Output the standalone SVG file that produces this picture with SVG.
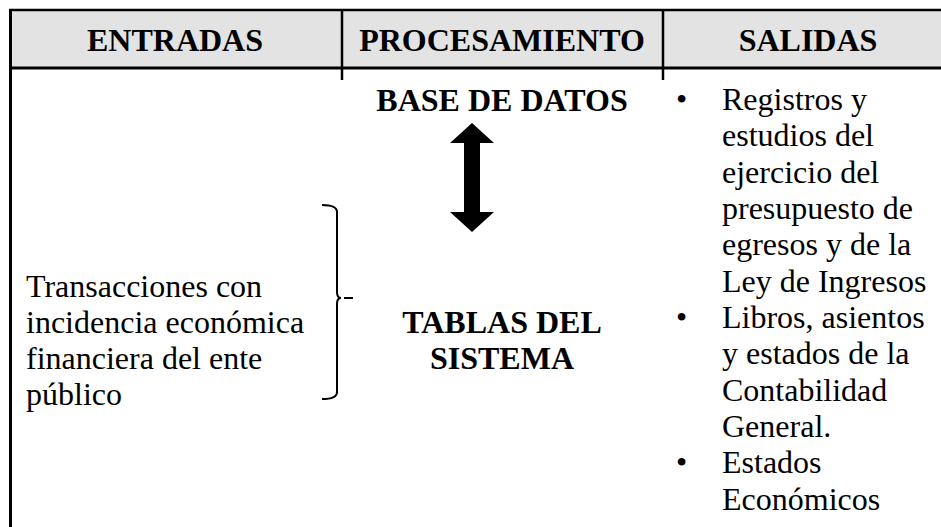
<svg xmlns="http://www.w3.org/2000/svg" width="941" height="527" viewBox="0 0 941 527">
<style>
.hd{font-family:'Liberation Serif',Tinos,'Times New Roman',Times,serif;font-weight:700;font-size:32px;fill:#000;text-anchor:middle}
.tx{font-family:'Liberation Serif',Tinos,'Times New Roman',Times,serif;font-size:32px;fill:#000}
.ln{stroke:#000;fill:none}
</style>
<rect width="941" height="527" fill="#fff"/>
<g id="table">
<rect x="10" y="10" width="931" height="58" fill="#e3e3e3"/>
<line class="ln" x1="9" y1="10" x2="941" y2="10" stroke-width="2.5"/>
<line class="ln" x1="9" y1="68" x2="941" y2="68" stroke-width="3"/>
<line class="ln" x1="10.5" y1="9" x2="10.5" y2="527" stroke-width="3"/>
<line class="ln" x1="342" y1="10" x2="342" y2="80" stroke-width="2.5"/>
<line class="ln" x1="663" y1="10" x2="663" y2="80" stroke-width="2.5"/>
</g>
<g id="header-entradas"><text class="hd" x="175" y="51">ENTRADAS</text></g>
<g id="header-procesamiento"><text class="hd" x="502" y="51">PROCESAMIENTO</text></g>
<g id="header-salidas"><text class="hd" x="808" y="51">SALIDAS</text></g>
<g id="entradas">
<text class="tx" x="26" y="297">Transacciones con</text>
<text class="tx" x="26" y="333">incidencia económica</text>
<text class="tx" x="26" y="369">financiera del ente</text>
<text class="tx" x="26" y="405">público</text>
</g>
<g id="base-datos"><text class="hd" x="502" y="111">BASE DE DATOS</text></g>
<g id="tablas-sistema">
<text class="hd" x="502" y="333">TABLAS DEL</text>
<text class="hd" x="502" y="369">SISTEMA</text>
</g>
<g id="salidas">
<text class="tx" x="676" y="110">•</text>
<text class="tx" x="722" y="110">Registros y</text>
<text class="tx" x="722" y="146">estudios del</text>
<text class="tx" x="722" y="183">ejercicio del</text>
<text class="tx" x="722" y="219">presupuesto de</text>
<text class="tx" x="722" y="255">egresos y de la</text>
<text class="tx" x="722" y="292">Ley de Ingresos</text>
<text class="tx" x="676" y="328">•</text>
<text class="tx" x="722" y="328">Libros, asientos</text>
<text class="tx" x="722" y="364">y estados de la</text>
<text class="tx" x="722" y="401">Contabilidad</text>
<text class="tx" x="722" y="437">General.</text>
<text class="tx" x="676" y="473">•</text>
<text class="tx" x="722" y="473">Estados</text>
<text class="tx" x="722" y="510">Económicos</text>
</g>
<g id="connectors">
<path d="M472 123 L494 143 L480 143 L480 212 L494 212 L472 232 L450 212 L464 212 L464 143 L450 143 Z" fill="#000"/>
<path class="ln" stroke-width="2" d="M322 205 Q337 205 337 212 L337 292 Q337 298 341 298 Q337 298 337 304 L337 392 Q337 399 322 399"/>
<line class="ln" x1="344" y1="298" x2="353" y2="298" stroke-width="2"/>
</g>
</svg>
